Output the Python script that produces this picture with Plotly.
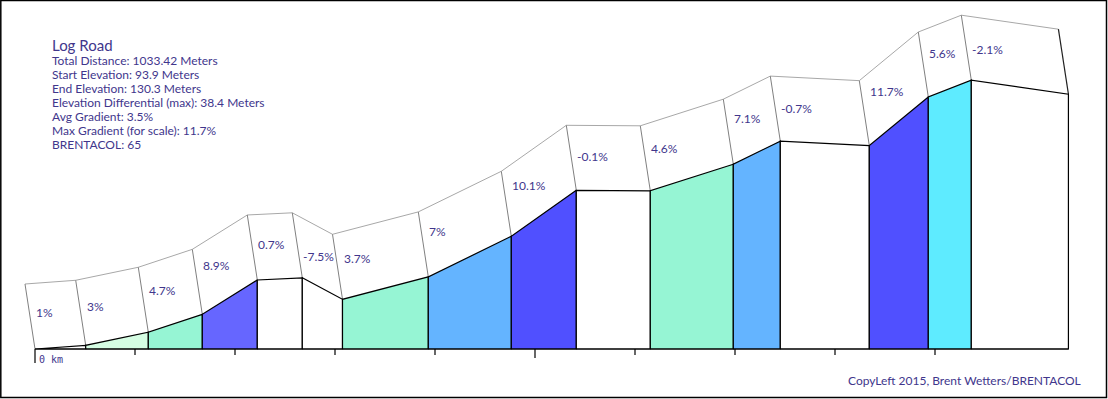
import plotly.graph_objects as go

# ---------------- data ----------------
road_name = "Log Road"
dist_m = [0, 50.7, 113.3, 167.3, 222.3, 267.3, 307.5, 393.3, 476.3, 541.3,
          615.3, 698.3, 745.3, 834.3, 893.3, 936.3, 1033.42]
elev_m = [93.9, 94.43, 96.29, 98.85, 103.76, 104.07, 101.0, 104.2, 110.0, 116.57,
          116.5, 120.3, 123.6, 122.95, 129.9, 132.3, 130.3]
gradients = [1, 3, 4.7, 8.9, 0.7, -7.5, 3.7, 7, 10.1, -0.1, 4.6, 7.1, -0.7, 11.7, 5.6, -2.1]
tick_m = [0, 100, 200, 300, 400, 500, 600, 700, 800, 900]
info_lines = [
    "Total Distance: 1033.42 Meters",
    "Start Elevation: 93.9 Meters",
    "End Elevation: 130.3 Meters",
    "Elevation Differential (max): 38.4 Meters",
    "Avg Gradient: 3.5%",
    "Max Gradient (for scale): 11.7%",
    "BRENTACOL: 65",
]
credit = "CopyLeft 2015, Brent Wetters/BRENTACOL"

# ---------------- styling ----------------
W, H = 1108, 399
TEXT = "#41368c"
FONT = "Lato"
PX_PER_M_Y = 7.0          # vertical exaggeration (px per metre of elevation)
X0_PX, BASE_PX = 35, 349  # pixel of distance 0 / of base elevation
DX_3D, DY_3D = -10, 65    # ribbon offset (px)


def grad_color(g):
    if g < 2:
        return "#ffffff"
    if g < 3.5:
        return "#d5fde3"
    if g < 5:
        return "#96f5d4"
    if g < 6.5:
        return "#5eebff"
    if g < 8:
        return "#64b4ff"
    if g < 9.5:
        return "#6666ff"
    return "#5050ff"


base = min(elev_m)
xr = [-X0_PX, W - X0_PX]
yr = [base - (H - BASE_PX) / PX_PER_M_Y, base + BASE_PX / PX_PER_M_Y]
dx_m = DX_3D
dy_m = DY_3D / PX_PER_M_Y

fig = go.Figure()

# ribbon (3D band above the profile)
top_x = [d + dx_m for d in dist_m]
top_y = [e + dy_m for e in elev_m]
fig.add_trace(go.Scatter(x=top_x, y=top_y, mode="lines",
                         line=dict(color="#a8a8a8", width=1), hoverinfo="skip"))
sx, sy = [], []
for d, e, tx, ty in zip(dist_m[:-1], elev_m[:-1], top_x[:-1], top_y[:-1]):
    sx += [d, tx, None]
    sy += [e, ty, None]
fig.add_trace(go.Scatter(x=sx, y=sy, mode="lines",
                         line=dict(color="#808080", width=1), hoverinfo="skip"))
fig.add_trace(go.Scatter(x=[dist_m[-1], top_x[-1]], y=[elev_m[-1], top_y[-1]], mode="lines",
                         line=dict(color="#222222", width=1.2), hoverinfo="skip"))

# segments
for i, g in enumerate(gradients):
    xL, xR = dist_m[i], dist_m[i + 1]
    eL, eR = elev_m[i], elev_m[i + 1]
    fig.add_trace(go.Scatter(
        x=[xL, xL, xR, xR, xL], y=[base, eL, eR, base, base],
        mode="lines", fill="toself", fillcolor=grad_color(g),
        line=dict(color="#000000", width=1.2), hoverinfo="skip"))

# baseline and ticks
fig.add_trace(go.Scatter(x=[dist_m[0], dist_m[-1]], y=[base, base], mode="lines",
                         line=dict(color="#000000", width=1.2), hoverinfo="skip"))
tx_, ty_ = [], []
for t in tick_m:
    ln = 14 if t == 0 else (9 if t == 500 else 6)
    tx_ += [t, t, None]
    ty_ += [base, base - ln / PX_PER_M_Y, None]
fig.add_trace(go.Scatter(x=tx_, y=ty_, mode="lines",
                         line=dict(color="#000000", width=1.2), hoverinfo="skip"))

annotations = []
# gradient labels
for i, g in enumerate(gradients):
    slope = (elev_m[i + 1] - elev_m[i]) / (dist_m[i + 1] - dist_m[i])
    ly = elev_m[i] + 4.9 + slope * 23.6
    annotations.append(dict(x=dist_m[i] - 1, y=ly, xref="x", yref="y",
                            text=f"{g:g}%", showarrow=False, xanchor="left", yanchor="middle",
                            font=dict(family=FONT, size=12, color=TEXT)))
annotations.append(dict(x=2, y=base - 10 / PX_PER_M_Y, xref="x", yref="y", text="0 km",
                        showarrow=False, xanchor="left", yanchor="middle",
                        font=dict(family="DejaVu Sans Mono", size=10, color=TEXT)))

# info block
annotations.append(dict(x=50 / W, y=1 - 45 / H, xref="paper", yref="paper", text=road_name,
                        showarrow=False, xanchor="left", yanchor="middle",
                        font=dict(family=FONT, size=15, color=TEXT)))
for k, line in enumerate(info_lines):
    annotations.append(dict(x=50 / W, y=1 - (60 + 14.05 * k) / H, xref="paper", yref="paper",
                            text=line, showarrow=False, xanchor="left", yanchor="middle",
                            font=dict(family=FONT, size=12, color=TEXT)))
annotations.append(dict(x=1083 / W, y=1 - 380 / H, xref="paper", yref="paper", text=credit,
                        showarrow=False, xanchor="right", yanchor="middle",
                        font=dict(family=FONT, size=12, color=TEXT)))

shapes = [dict(type="rect", xref="paper", yref="paper",
               x0=0.8 / W, x1=1106.5 / W, y0=1 - 397.5 / H, y1=1 - 0.5 / H,
               line=dict(color="#000000", width=1.5))]

fig.update_layout(
    width=W, height=H, margin=dict(l=0, r=0, t=0, b=0),
    paper_bgcolor="#ffffff", plot_bgcolor="#ffffff", showlegend=False,
    xaxis=dict(range=xr, visible=False, fixedrange=True),
    yaxis=dict(range=yr, visible=False, fixedrange=True),
    annotations=annotations, shapes=shapes,
)

fig.write_html("out.html", config={"displayModeBar": False},
               post_script="document.body.style.margin='0px';document.body.style.overflow='hidden';")
